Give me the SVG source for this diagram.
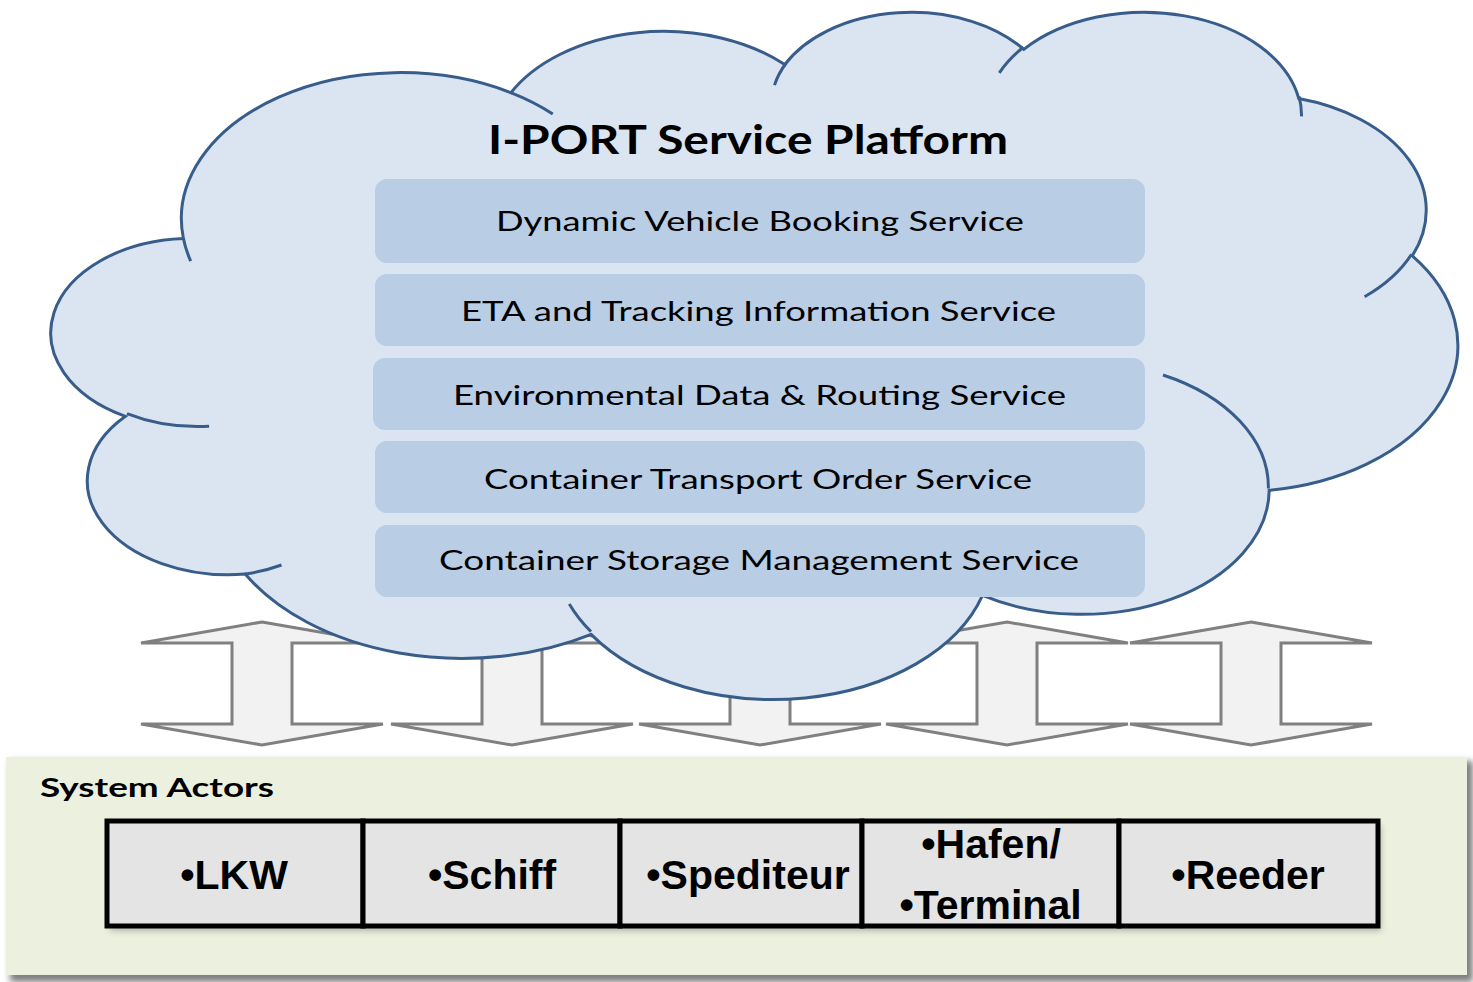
<svg xmlns="http://www.w3.org/2000/svg" width="1473" height="982" viewBox="0 0 1473 982">
<style>
.arrow{fill:#f2f2f2;stroke:#808080;stroke-width:3;stroke-linejoin:miter}
.cloud{fill:#dbe5f1;stroke:#385d8a;stroke-width:3}
.cloudline{fill:none;stroke:#385d8a;stroke-width:3}
.svc{fill:#b9cde5}
.svct{font-family:Lato,"Open Sans",sans-serif;font-size:27px;fill:#000;text-anchor:middle}
.title{font-family:Lato,"Open Sans",sans-serif;font-size:40px;font-weight:bold;fill:#000;text-anchor:middle}
.cell{fill:#e4e4e4;stroke:#000;stroke-width:5}
.act{font-family:"Liberation Sans",Arial,sans-serif;font-size:41px;font-weight:bold;fill:#000;text-anchor:middle}
.lbl{font-family:Lato,"Open Sans",sans-serif;font-size:26px;font-weight:bold;fill:#000}
</style>
<defs>
<path id="dblarrow" d="M0,622 L121,643 L30,643 L30,724 L121,724 L0,745 L-121,724 L-30,724 L-30,643 L-121,643 Z"/>
<filter id="blur" x="-5%" y="-5%" width="110%" height="110%"><feGaussianBlur stdDeviation="3"/></filter>
</defs>
<rect width="1473" height="982" fill="#ffffff"/>

<g id="actors-panel">
<rect x="10" y="761" width="1463" height="221" fill="#7f7f7f" filter="url(#blur)"/>
<rect x="6" y="757" width="1461" height="218" fill="#ebf1de"/>
<text class="lbl" x="40" y="797" textLength="234" lengthAdjust="spacingAndGlyphs">System Actors</text>
<rect x="110" y="825" width="1271" height="106" fill="#8c8c8c" opacity="0.6" filter="url(#blur)"/>
</g>

<g id="connectors">
<use href="#dblarrow" class="arrow" transform="translate(262,0)"/>
<use href="#dblarrow" class="arrow" transform="translate(512,0)"/>
<use href="#dblarrow" class="arrow" transform="translate(760,0)"/>
<use href="#dblarrow" class="arrow" transform="translate(1007,0)"/>
<use href="#dblarrow" class="arrow" transform="translate(1251,0)"/>
</g>

<g id="cloud">
<path class="cloud" d="M183.4,238.5 A218.8,146.1 0 0 1 510.9,92.7 A172.8,115.6 0 0 1 784.8,64.6 A141.5,94.5 0 0 1 1023.8,49.4 A157.4,104.9 0 0 1 1298.8,98.6 A172.8,115.7 0 0 1 1412.3,255.8 A219.6,146.6 0 0 1 1269.2,490.3 A187.5,125.1 0 0 1 982.5,595.4 A218.8,146.5 0 0 1 591.1,634.4 A250.2,167.7 0 0 1 245.2,574.1 A141.3,94.1 0 0 1 125.5,416.3 A140.8,94.5 0 0 1 183.4,238.5 Z"/>
<path class="cloudline" d="M209.1,426.3 A140.8,94.5 0 0 1 127.0,413.6 M281.5,565.0 A141.3,94.1 0 0 1 245.2,574.1 M591.0,631.6 A218.8,146.5 0 0 1 569.3,603.9 M991.2,562.6 A218.8,146.5 0 0 1 982.6,593.0 M1163.0,375.0 A187.5,125.1 0 0 1 1268.4,488.5 M1411.6,254.2 A172.8,115.7 0 0 1 1364.6,296.7 M1299.0,96.3 A157.4,104.9 0 0 1 1301.5,116.4 M999.3,72.8 A157.4,104.9 0 0 1 1023.4,47.2 M774.5,85.1 A141.5,94.5 0 0 1 786.2,63.0 M510.7,92.6 A218.8,146.1 0 0 1 552.8,114.0 M190.7,261.1 A218.8,146.1 0 0 1 183.4,238.5"/>
<text class="title" x="748" y="154" textLength="520" lengthAdjust="spacingAndGlyphs">I-PORT Service Platform</text>
</g>

<g id="svc-booking">
<rect class="svc" x="375" y="179" width="770" height="84" rx="12"/>
<text class="svct" x="760" y="231" textLength="528" lengthAdjust="spacingAndGlyphs">Dynamic Vehicle Booking Service</text>
</g>
<g id="svc-eta">
<rect class="svc" x="375" y="274" width="770" height="72" rx="12"/>
<text class="svct" x="758.5" y="321" textLength="595" lengthAdjust="spacingAndGlyphs">ETA and Tracking Information Service</text>
</g>
<g id="svc-env">
<rect class="svc" x="373" y="358" width="772" height="72" rx="12"/>
<text class="svct" x="759.5" y="405" textLength="613" lengthAdjust="spacingAndGlyphs">Environmental Data &amp; Routing Service</text>
</g>
<g id="svc-transport">
<rect class="svc" x="375" y="441" width="770" height="72" rx="12"/>
<text class="svct" x="758" y="489" textLength="548" lengthAdjust="spacingAndGlyphs">Container Transport Order Service</text>
</g>
<g id="svc-storage">
<rect class="svc" x="375" y="525" width="770" height="72" rx="12"/>
<text class="svct" x="759" y="570" textLength="640" lengthAdjust="spacingAndGlyphs">Container Storage Management Service</text>
</g>

<g id="actor-lkw">
<rect class="cell" x="107" y="821" width="256" height="105"/>
<text class="act" x="234" y="889">•LKW</text>
</g>
<g id="actor-schiff">
<rect class="cell" x="363" y="821" width="257" height="105"/>
<text class="act" x="492" y="889">•Schiff</text>
</g>
<g id="actor-spediteur">
<rect class="cell" x="620" y="821" width="242" height="105"/>
<text class="act" x="748" y="889">•Spediteur</text>
</g>
<g id="actor-hafen">
<rect class="cell" x="862" y="821" width="257" height="105"/>
<text class="act" x="991" y="858">•Hafen/</text>
<text class="act" x="990.5" y="919">•Terminal</text>
</g>
<g id="actor-reeder">
<rect class="cell" x="1119" y="821" width="259" height="105"/>
<text class="act" x="1248" y="889">•Reeder</text>
</g>
</svg>
